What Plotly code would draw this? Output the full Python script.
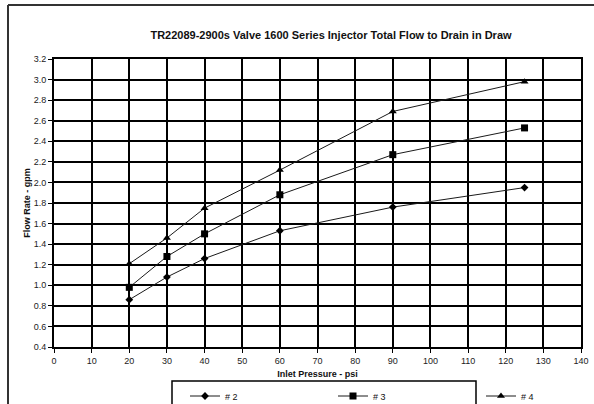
import plotly.graph_objects as go

pressure = [20, 30, 40, 60, 90, 125]
flow_2 = [0.86, 1.08, 1.26, 1.53, 1.76, 1.95]
flow_3 = [0.98, 1.28, 1.50, 1.88, 2.27, 2.53]
flow_4 = [1.21, 1.46, 1.75, 2.12, 2.69, 2.98]
series_names = ["# 2", "# 3", "# 4"]
x_ticks = list(range(0, 141, 10))
y_ticks = [round(0.4 + 0.2 * i, 1) for i in range(15)]

W, H = 594, 404
L, R, T, B = 54, 13, 59, 57
pw, ph = W - L - R, H - T - B

def px(x):
    return (x - L) / pw

def py(y):
    return (H - B - y) / ph

FONT = "Liberation Sans, Arial, sans-serif"
LINE = "#1a1a1a"

fig = go.Figure()
symbols = ["diamond", "square", "triangle-up"]
sizes = [6, 7, 7]
for name, vals, sym, sz in zip(series_names, [flow_2, flow_3, flow_4], symbols, sizes):
    fig.add_trace(go.Scatter(
        x=pressure, y=vals, name=name, mode="lines+markers",
        line=dict(color=LINE, width=1),
        marker=dict(symbol=sym, size=sz, color="#000000"),
    ))

axis_common = dict(
    showgrid=True, gridcolor="#000000", gridwidth=2,
    showline=True, linecolor="#000000", linewidth=2, mirror=True,
    ticks="outside", ticklen=4, tickwidth=1, tickcolor="#000000",
    zeroline=False,
    tickfont=dict(family=FONT, size=9, color="#222222"),
)

fig.update_xaxes(
    range=[0, 140], tickvals=x_ticks, ticktext=[str(v) for v in x_ticks],
    title=dict(text="<b>Inlet Pressure - psi</b>", font=dict(family=FONT, size=9, color="#111111"), standoff=6),
    **axis_common,
)
fig.update_yaxes(
    range=[0.4, 3.2], tickvals=y_ticks, ticktext=[f"{v:.1f}" for v in y_ticks],
    title=dict(text="<b>Flow Rate - gpm</b>", font=dict(family=FONT, size=9, color="#111111"), standoff=2),
    **axis_common,
)

shapes = [
    # outer chart frame (cropped at right/bottom)
    dict(type="line", xref="paper", yref="paper", x0=px(8), y0=py(5), x1=px(W + 20), y1=py(5),
         line=dict(color="#333333", width=2)),
    dict(type="line", xref="paper", yref="paper", x0=px(8), y0=py(5), x1=px(8), y1=py(H + 20),
         line=dict(color="#333333", width=2)),
    # legend box
    dict(type="rect", xref="paper", yref="paper", x0=px(172), y0=py(381), x1=px(476), y1=py(H + 20),
         line=dict(color="#000000", width=1.5), fillcolor="rgba(0,0,0,0)"),
]

fig.update_layout(
    width=W, height=H,
    margin=dict(l=L, r=R, t=T, b=B, autoexpand=False),
    paper_bgcolor="#ffffff", plot_bgcolor="#ffffff",
    font=dict(family=FONT, color="#111111"),
    title=dict(text="<b>TR22089-2900s Valve 1600 Series Injector Total Flow to Drain in Draw</b>",
               font=dict(family=FONT, size=11, color="#111111"),
               x=px(331), xref="paper", xanchor="center", y=1 - 35 / H, yanchor="middle"),
    showlegend=True,
    legend=dict(orientation="h", x=px(185), xanchor="left", y=py(396), yanchor="middle",
                entrywidth=103, entrywidthmode="pixels", itemwidth=30,
                font=dict(family=FONT, size=9, color="#111111"),
                bgcolor="rgba(0,0,0,0)", borderwidth=0),
    shapes=shapes,
)

fig.write_html("out.html", config={"displayModeBar": False},
               post_script="document.body.style.margin='0';document.body.style.overflow='hidden';")
